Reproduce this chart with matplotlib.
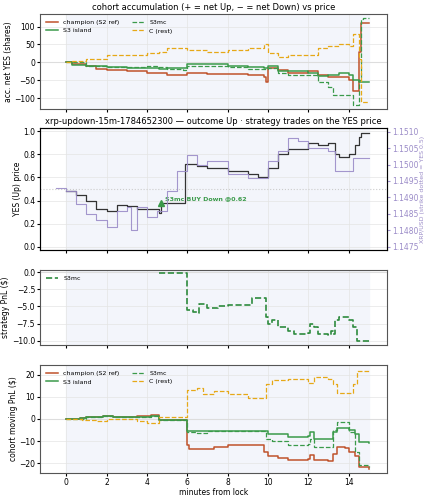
import matplotlib
matplotlib.use("Agg")
import matplotlib.pyplot as plt
import numpy as np

RED, GRN, MCG, ORG, PUR = "#c0522b", "#3a9a4a", "#3a9a4a", "#e6a817", "#9b8cc8"

acc_champ_t = [0,0.3,1,1.5,2,3,4,5,6,7,8,9,9.8,9.9,10,10.5,11,12,12.5,13,14,14.2,14.5,14.6,15]
acc_champ = [0,-5,-10,-18,-22,-25,-30,-35,-30,-32,-33,-35,-40,-55,-15,-20,-30,-25,-35,-42,-48,-80,30,110,110]
acc_isl_t = [0,0.3,1,2,3,4,4.6,5,6,7,8,9,9.8,10,10.5,11,12,12.5,13,13.5,14,14.2,14.5,15]
acc_isl = [0,-8,-10,-12,-15,-15,-18,-15,-5,-5,-10,-12,-15,-10,-25,-25,-30,-38,-35,-30,-35,-50,-55,-55]
acc_mc_t = [0,1,2,3,4,4.5,5,5.8,6,7,8,9,10,10.5,11,12,12.5,13,13.2,14,14.2,14.5,14.6,14.7,15]
acc_mc = [0,-10,-12,-13,-10,-12,-18,-20,-10,-10,-12,-18,-15,-30,-35,-35,-55,-70,-90,-90,-120,-50,120,125,125]
acc_c_t = [0,0.3,1,2,3,4,4.6,5,6,7,8,9,9.8,10,10.5,11,12,12.5,13,13.5,14,14.2,14.5,14.6,15]
acc_c = [0,5,10,20,22,25,30,40,35,30,35,40,50,25,15,20,20,40,45,50,45,80,10,-110,-110]

yes_t = [0,0.5,1,1.5,2,2.5,3,3.5,4,4.6,4.7,5.8,5.9,6.5,7,8,9,9.5,10,10.5,11,12,12.5,13,13.3,13.5,14,14.3,14.5,14.6,15]
yes_p = [0.48,0.45,0.40,0.33,0.31,0.36,0.35,0.33,0.33,0.29,0.38,0.38,0.72,0.70,0.68,0.66,0.63,0.60,0.68,0.80,0.85,0.90,0.88,0.90,0.80,0.78,0.80,0.88,0.95,0.99,0.99]
xrp_t = [-0.5,0,0.5,1,1.5,2,2.5,3,3.2,3.5,4,4.5,5,5.5,6,6.5,7,8,9,9.5,10,10.5,11,11.5,12,13,13.3,14,14.2,15]
xrp_p = [1.1493,1.1492,1.1488,1.1485,1.1483,1.1481,1.1486,1.1487,1.1480,1.1487,1.1484,1.1486,1.1492,1.1498,1.1503,1.1500,1.1501,1.1497,1.1496,1.1496,1.1501,1.1504,1.1508,1.1507,1.1505,1.1504,1.1498,1.1498,1.1502,1.1502]
strike = 1.14925
trade_t, trade_p = 4.7, 0.38

spnl_t = [4.6,5.9,6,6.3,6.5,6.6,7,7.5,8,9,9.2,9.8,9.9,10,10.2,10.5,11,11.3,12,12.1,12.3,12.5,13,13.1,13.2,13.3,13.5,14,14.2,14.4,15]
spnl = [-0.2,-0.2,-5.5,-5.8,-6,-4.6,-5.2,-5,-4.8,-4.8,-3.8,-3.8,-6.5,-7.5,-7,-8,-8.5,-9,-8.8,-7.5,-8,-9,-9.2,-8.5,-9,-7,-6.5,-7,-8,-10,-10.2]

pn_champ_t = [0,0.7,1,1.8,2.3,3.5,4.2,4.6,5.9,6,6.1,7.3,8,9.7,9.8,10,10.5,11,12,12.1,12.3,13,13.2,13.4,13.8,14,14.3,14.5,15]
pn_champ = [0,0.5,1,1.5,1,1.2,2,-0.5,-0.5,-12,-13.5,-12.5,-12,-12,-15,-17,-17.5,-18.5,-18,-16.5,-18.5,-19,-16,-12.5,-13,-15,-17,-22,-22.5]
pn_isl_t = [0,0.7,1,1.8,2.3,3.5,4.2,4.6,5.9,6,8,9.7,10,11,12,12.1,12.3,13,13.2,13.4,13.8,14,14.3,14.5,15]
pn_isl = [0,0.5,1,1.2,0.8,1,1.5,-0.5,-0.5,-5.5,-5.5,-5.5,-7,-8,-7.5,-6,-9,-9,-6,-4,-4,-5,-7,-10.5,-11]
pn_mc_t = [0,1,1.8,2.3,3.5,4.2,4.6,5.9,6,6.5,7,9.7,9.9,10.2,11,12,12.1,12.3,13,13.2,13.4,13.8,14,14.3,14.5,15]
pn_mc = [0,0.8,1.3,0.7,0.8,1.2,-0.5,-0.5,-6,-6.5,-5.5,-5.5,-9,-10,-12,-11.5,-9,-12.5,-12.5,-5,-1.5,-1.5,-6,-15,-21,-22]
pn_c_t = [0,0.8,1,1.5,2,3.5,4,4.6,5.9,6,6.5,6.8,7.3,8,9,9.8,9.9,10.2,11,12,12.3,13,13.2,13.4,14,14.2,14.4,15]
pn_c = [0,-0.3,-0.6,-1,0,-1,-2,1,1,13,14,11.5,12.5,11.5,9.5,9.5,16,17.5,18,16.5,19,18,16,12,12,16,22,22]

FS = 5.5
fig = plt.figure(figsize=(4.29, 5.0), dpi=100)
L, W = 40/429, 347/429
def ax_at(top, bot):
    return fig.add_axes([L, 1-bot/500, W, (bot-top)/500])
ax1 = ax_at(14, 109); ax2 = ax_at(128, 250); ax3 = ax_at(270, 345); ax4 = ax_at(365, 473)
for a in (ax1, ax2, ax3, ax4):
    a.set_xlim(-1.3, 15.9)
    a.axvspan(0, 15, color="#f3f5fb", zorder=0)
    a.grid(True, color="#e4e4e4", lw=0.5)
    a.tick_params(labelsize=FS, length=2, pad=1.5)
    for s in a.spines.values():
        s.set_color("#555"); s.set_linewidth(0.8)
    a.set_xticks([0,2,4,6,8,10,12,14])
    if a is not ax4: a.set_xticklabels([])

ax1.axhline(0, color="#ddd", lw=0.8)
ax1.step(acc_champ_t, acc_champ, where="post", color=RED, lw=1.1, label="champion (S2 ref)")
ax1.step(acc_isl_t, acc_isl, where="post", color=GRN, lw=1.1, label="S3 island")
ax1.step(acc_mc_t, acc_mc, where="post", color=MCG, lw=0.9, ls="--", label="S3mc")
ax1.step(acc_c_t, acc_c, where="post", color=ORG, lw=0.9, ls="--", label="C (rest)")
ax1.set_ylim(-130, 135)
ax1.set_yticks([-100,-50,0,50,100])
ax1.set_ylabel("acc. net YES (shares)", fontsize=FS, labelpad=1)
ax1.set_title("cohort accumulation (+ = net Up, − = net Down) vs price", fontsize=6, pad=3)
ax1.legend(ncol=2, fontsize=4.5, loc="upper left", frameon=False)

ax2.axhline(0.5, color="#ccc", lw=0.8, ls=":")
ax2.step(yes_t, yes_p, where="post", color="#333", lw=0.9)
ax2.plot(trade_t, trade_p, marker="^", color=GRN, ms=5)
ax2.annotate("S3mc BUY Down @0.62", (trade_t, trade_p), xytext=(3, 2), textcoords="offset points",
             fontsize=4.5, color=GRN, fontweight="bold")
ax2.set_ylim(-0.03, 1.03)
ax2.set_ylabel("YES (Up) price", fontsize=FS, labelpad=1)
ax2.set_title("xrp-updown-15m-1784652300 — outcome Up · strategy trades on the YES price", fontsize=6, pad=3)
axr = ax2.twinx()
axr.step(xrp_t, xrp_p, where="post", color=PUR, lw=0.8, alpha=0.9)
axr.set_ylim(1.14740, 1.15111)
ticks = np.arange(1.1475, 1.15101, 0.0005)
axr.set_yticks(ticks)
axr.set_yticklabels([f"{v:.4f}" for v in ticks])
axr.tick_params(labelsize=FS, colors=PUR, length=2, pad=1.5)
axr.set_ylabel("XRP/USD (strike dotted = YES 0.5)", fontsize=4.5, color=PUR, labelpad=1)

ax3.axhline(0, color="#ddd", lw=0.8)
ax3.step(spnl_t, spnl, where="post", color="#2e8b3e", lw=1.2, ls="--", label="S3mc")
ax3.set_ylim(-10.6, 0.3)
ax3.set_yticks([0,-2.5,-5,-7.5,-10])
ax3.set_ylabel("strategy PnL ($)", fontsize=FS, labelpad=1)
ax3.legend(fontsize=4.5, loc="upper left", frameon=False)

ax4.axhline(0, color="#ddd", lw=0.8)
ax4.step(pn_champ_t, pn_champ, where="post", color=RED, lw=1.1, label="champion (S2 ref)")
ax4.step(pn_isl_t, pn_isl, where="post", color=GRN, lw=1.1, label="S3 island")
ax4.step(pn_mc_t, pn_mc, where="post", color=MCG, lw=0.9, ls="--", label="S3mc")
ax4.step(pn_c_t, pn_c, where="post", color=ORG, lw=0.9, ls="--", label="C (rest)")
ax4.set_ylim(-24.5, 24.5)
ax4.set_yticks([-20,-10,0,10,20])
ax4.set_ylabel("cohort moving PnL ($)", fontsize=FS, labelpad=1)
ax4.set_xlabel("minutes from lock", fontsize=FS, labelpad=1)
ax4.legend(ncol=2, fontsize=4.5, loc="upper left", frameon=False)

fig.savefig("out.png", dpi=100)
